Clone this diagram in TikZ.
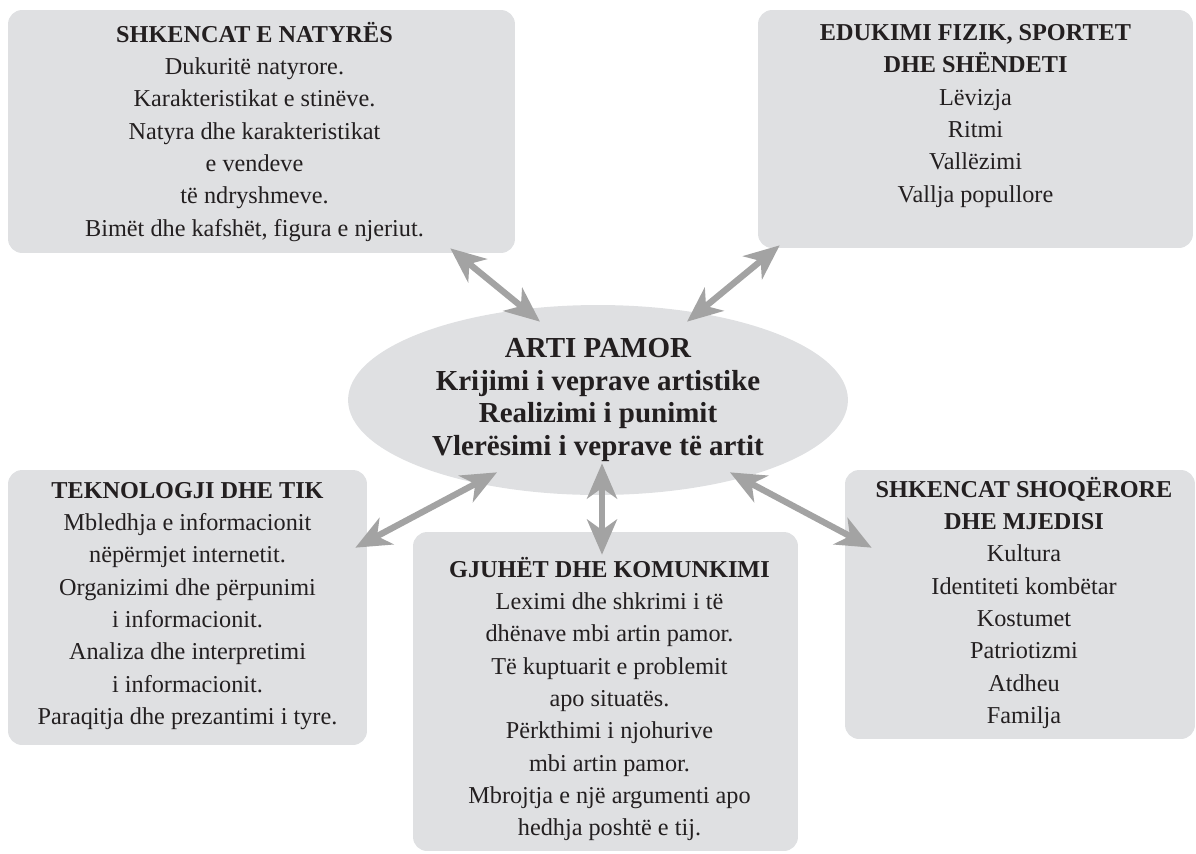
\documentclass[tikz,border=0pt]{standalone}
\usepackage{fontspec}
\setmainfont{Liberation Serif}
\usepackage{xcolor}
\usepackage{tikz}
\usetikzlibrary{positioning, calc}
\usetikzlibrary{arrows.meta, shapes}
\definecolor{BoxGray}{RGB}{223,224,226}
\definecolor{ArrowGray}{RGB}{163,163,163}
\definecolor{Ink}{RGB}{35,31,32}
\tikzset{
	subject/.style={fill=BoxGray, rounded corners=8pt, inner sep=0pt},
	subjtext/.style={text=Ink, align=center, inner sep=0pt, font=\fontsize{13.8}{18.4}\selectfont},
	link/.style={{Stealth[length=20pt,width=17pt,inset=6pt]}-{Stealth[length=20pt,width=17pt,inset=6pt]}, ArrowGray, line width=3.6pt},
}

\begin{document}
\begin{tikzpicture}[x=0.02cm, y=-0.02cm]
\useasboundingbox (0,0) rectangle (1196,853);

\node[subject, minimum width=10.14cm, minimum height=4.86cm] (natyra) at (261.5,131.5) {};
\node[subjtext, below=0.24cm of natyra.north, xshift=-0.14cm] (natyratxt) {\textbf{SHKENCAT E NATYRËS}\\Dukuritë natyrore.\\Karakteristikat e stinëve.\\Natyra dhe karakteristikat\\e vendeve\\të ndryshmeve.\\Bimët dhe kafshët, figura e njeriut.};

\node[subject, minimum width=8.7cm, minimum height=4.76cm] (sport) at (975.5,129) {};
\node[subjtext, below=0.29cm of sport.north] (sporttxt) {\textbf{EDUKIMI FIZIK, SPORTET}\\\textbf{DHE SHËNDETI}\\Lëvizja\\Ritmi\\Vallëzimi\\Vallja popullore};

\node[subject, minimum width=7.18cm, minimum height=5.5cm] (tik) at (187.5,607.5) {};
\node[subjtext, below=0.24cm of tik.north] (tiktxt) {\textbf{TEKNOLOGJI DHE TIK}\\Mbledhja e informacionit\\nëpërmjet internetit.\\Organizimi dhe përpunimi\\i informacionit.\\Analiza dhe interpretimi\\i informacionit.\\Paraqitja dhe prezantimi i tyre.};

\node[subject, minimum width=7.7cm, minimum height=6.38cm] (gjuhet) at (605.5,691.5) {};
\node[subjtext, below=0.5cm of gjuhet.north, xshift=0.08cm] (gjuhettxt) {\textbf{GJUHËT DHE KOMUNKIMI}\\Leximi dhe shkrimi i të\\dhënave mbi artin pamor.\\Të kuptuarit e problemit\\apo situatës.\\Përkthimi i njohurive\\mbi artin pamor.\\Mbrojtja e një argumenti apo\\hedhja poshtë e tij.};

\node[subject, minimum width=7.0cm, minimum height=5.38cm] (shoqeria) at (1020,604.5) {};
\node[subjtext, below=0.14cm of shoqeria.north, xshift=0.08cm] (shoqeriatxt) {\textbf{SHKENCAT SHOQËRORE}\\\textbf{DHE MJEDISI}\\Kultura\\Identiteti kombëtar\\Kostumet\\Patriotizmi\\Atdheu\\Familja};

% arti pamor in the middle
\node[ellipse, fill=BoxGray, minimum width=10cm, minimum height=3.8cm, inner sep=0pt, text=Ink, align=center, font=\fontsize{16.5}{18.7}\selectfont\bfseries] (pamor) at (598,400) {ARTI PAMOR\\Krijimi i veprave artistike\\Realizimi i punimit\\Vlerësimi i veprave të artit};

\draw[link] ($(natyra.south east)+(-65,-5)$) -- ($(pamor.north)+(-58,17)$);
\draw[link] ($(sport.south west)+(22,-3)$) -- ($(pamor.north)+(89,17)$);
\draw[link] ($(tik.north east)+(-12,78)$) -- ($(pamor.south)+(-101,-23)$);
\draw[link] ($(pamor.south)+(4,-32)$) -- ($(gjuhet.north)+(-3.5,23)$);
\draw[link] ($(pamor.south)+(132,-23)$) -- ($(shoqeria.north west)+(27,78)$);
\end{tikzpicture}
\end{document}
